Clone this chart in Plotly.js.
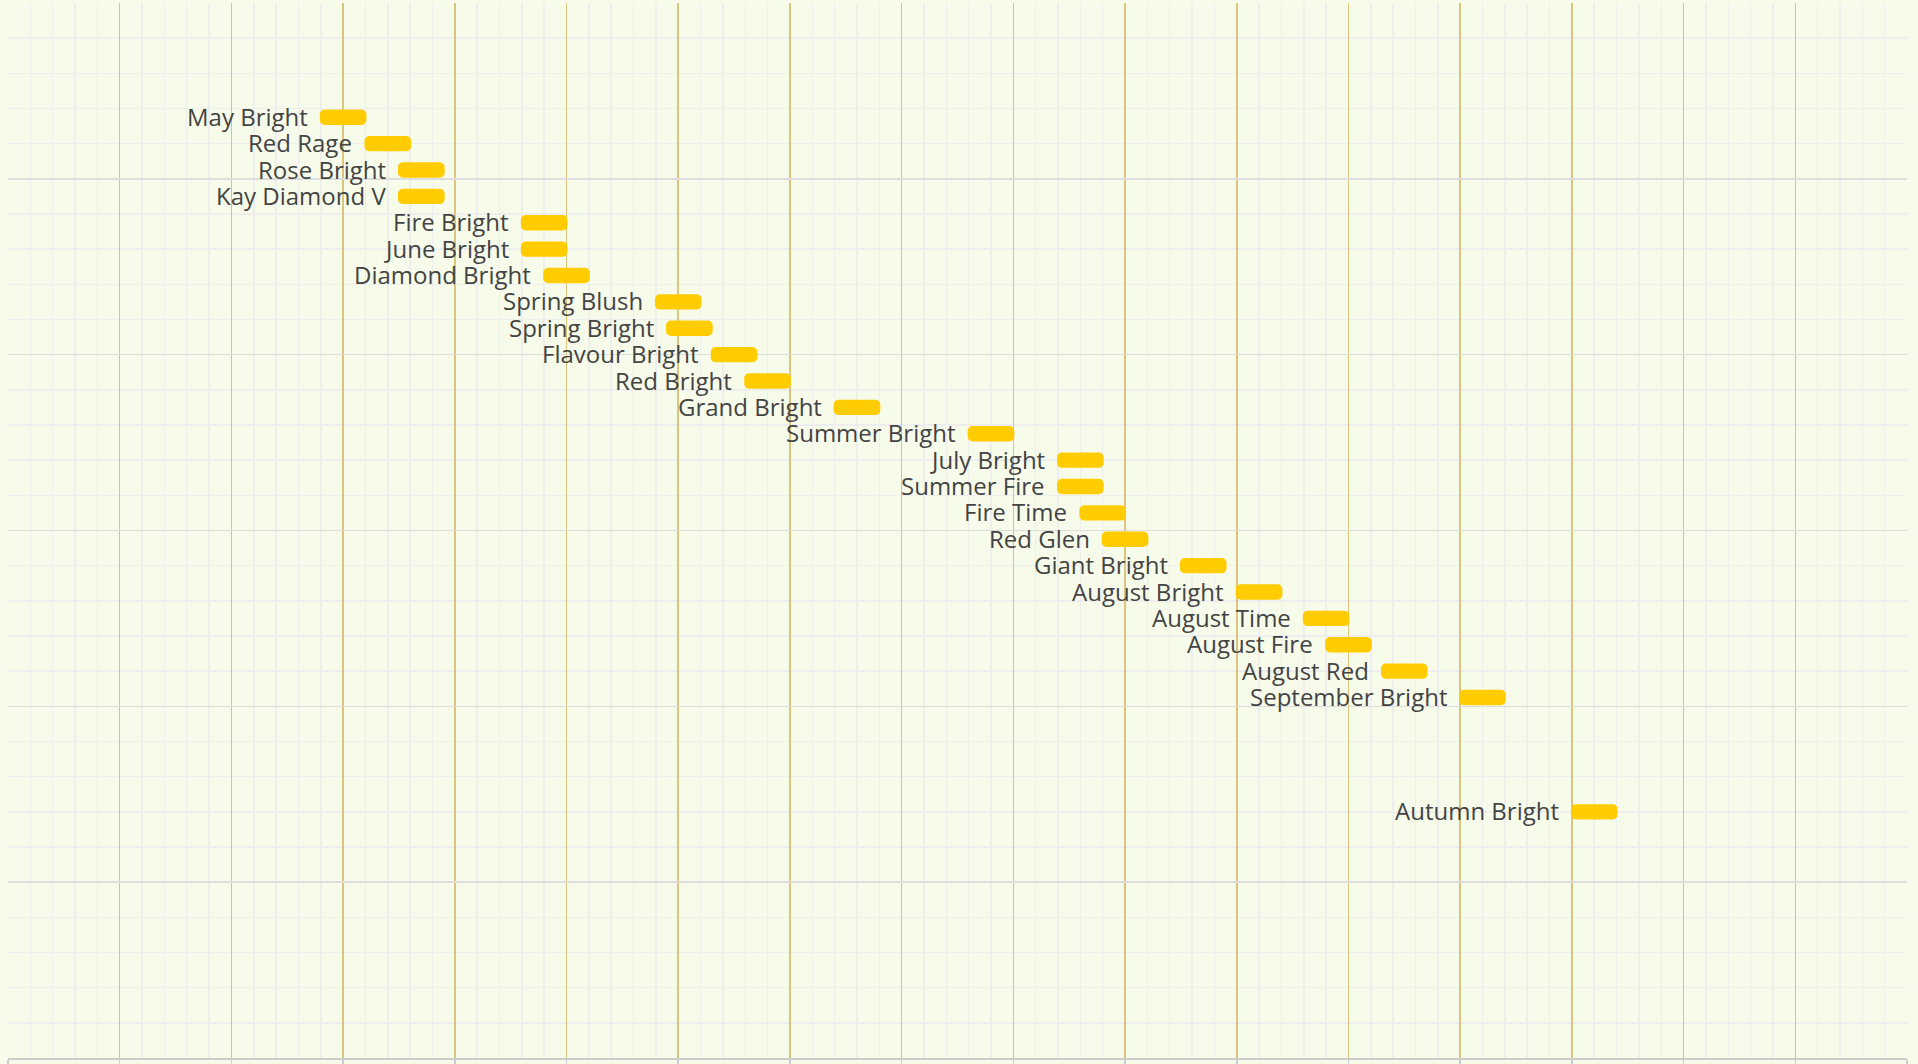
<!DOCTYPE html>
<html>
<head>
<meta charset="utf-8">
<script src="https://cdn.plot.ly/plotly-3.0.1.min.js"></script>
<style>
  html, body { margin: 0; padding: 0; background: #f7fbea; }
  #chart { width: 1918px; height: 1064px; }
</style>
</head>
<body>
<div id="chart"></div>
<script>
// Varieties (top to bottom)
const varieties = [
  "May Bright", "Red Rage", "Rose Bright", "Kay Diamond V", "Fire Bright",
  "June Bright", "Diamond Bright", "Spring Blush", "Spring Bright", "Flavour Bright",
  "Red Bright", "Grand Bright", "Summer Bright", "July Bright", "Summer Fire",
  "Fire Time", "Red Glen", "Giant Bright", "August Bright", "August Time",
  "August Fire", "August Red", "September Bright", "Autumn Bright"
];
// Start of each bar (x units)
const startValues = [
  28, 32, 35, 35, 46,
  46, 48, 58, 59, 63,
  66, 74, 86, 94, 94,
  96, 98, 105, 110, 116,
  118, 123, 130, 140
];
// Length of each bar (x units)
const durationValues = [
  4, 4, 4, 4, 4,
  4, 4, 4, 4, 4,
  4, 4, 4, 4, 4,
  4, 4, 4, 4, 4,
  4, 4, 4, 4
];
// Vertical position of each row (y units, axis reversed)
const rowValues = [
  3.25, 4.0, 4.75, 5.5, 6.25,
  7.0, 7.75, 8.5, 9.25, 10.0,
  10.75, 11.5, 12.25, 13.0, 13.75,
  14.5, 15.25, 16.0, 16.75, 17.5,
  18.25, 19.0, 19.75, 23.0
];

const bg = '#f7fbea';

const barTrace = {
  type: 'bar',
  orientation: 'h',
  base: startValues,
  x: durationValues,
  y: rowValues,
  width: 0.38,
  marker: { color: '#ffcc00', line: { color: '#ffcc00', width: 2 }, cornerradius: 4 },
  hoverinfo: 'skip',
  showlegend: false
};

// Labels: one annotation per variety, placed at the bar start through the axes
const labelAnnotations = varieties.map((name, i) => ({
  x: startValues[i],
  y: rowValues[i],
  xref: 'x',
  yref: 'y',
  text: name,
  showarrow: false,
  xanchor: 'right',
  yanchor: 'middle',
  xshift: -11,
  yshift: 1,
  font: { family: '"Open Sans", sans-serif', size: 24, color: '#444' }
}));

const layout = {
  width: 1918,
  height: 1064,
  margin: { l: 8, r: 11, t: 3, b: 6, pad: 0 },
  paper_bgcolor: bg,
  plot_bgcolor: bg,
  font: { family: '"Open Sans", sans-serif', color: '#444' },
  showlegend: false,
  annotations: labelAnnotations,
  xaxis: {
    range: [0, 170],
    tick0: 0,
    dtick: 10,
    showticklabels: false,
    ticks: 'outside',
    ticklen: 5,
    tickcolor: '#cccccc',
    tickwidth: 1.5,
    showline: true,
    linecolor: '#cccccc',
    linewidth: 1.5,
    showgrid: true,
    gridcolor: '#dcc47c',
    gridwidth: 1.5,
    zeroline: false,
    minor: { dtick: 2, showgrid: true, gridcolor: '#eeeeee', gridwidth: 1.5 },
    fixedrange: true
  },
  yaxis: {
    range: [30, 0],
    tick0: 0,
    dtick: 5,
    showticklabels: false,
    ticks: '',
    showline: false,
    showgrid: true,
    gridcolor: '#dddddd',
    gridwidth: 1.5,
    zeroline: false,
    minor: { dtick: 1, showgrid: true, gridcolor: '#eeeeee', gridwidth: 1.5 },
    fixedrange: true
  }
};

Plotly.newPlot('chart', [barTrace], layout, { displayModeBar: false, staticPlot: true });
</script>
</body>
</html>
